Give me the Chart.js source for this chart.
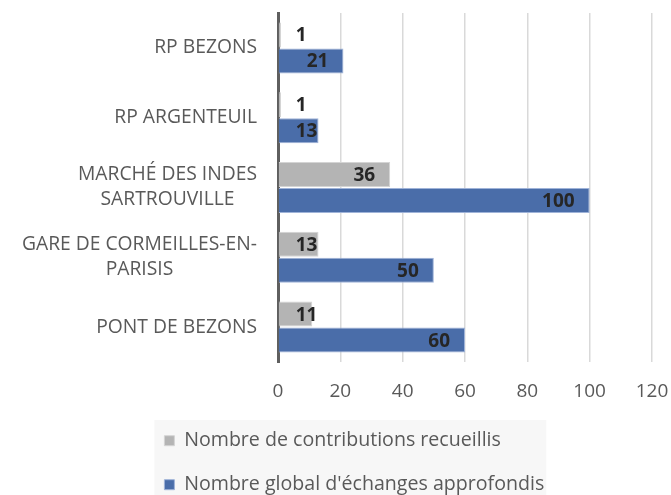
<!DOCTYPE html>
<html>
<head>
<meta charset="utf-8">
<script src="https://cdn.jsdelivr.net/npm/chart.js@4/dist/chart.umd.min.js"></script>
<style>
  html, body { margin: 0; padding: 0; background: #ffffff; }
  #wrap { width: 671px; height: 495px; position: relative; }
</style>
</head>
<body>
<div id="wrap"><canvas id="c" width="671" height="495"></canvas></div>
<script>
const categories = [
  'RP BEZONS',
  'RP ARGENTEUIL',
  ['MARCHÉ DES INDES', 'SARTROUVILLE'],
  ['GARE DE CORMEILLES-EN-', 'PARISIS'],
  'PONT DE BEZONS'
];
const seriesNames = ['Nombre de contributions recueillis', "Nombre global d'échanges approfondis"];
const contributions = [1, 1, 36, 13, 11];
const echanges = [21, 13, 100, 50, 60];
const xTicks = [0, 20, 40, 60, 80, 100, 120];

const FONT = "'Open Sans', 'Noto Sans', sans-serif";
const TEXT = '#595959';

const categoryLabelsPlugin = {
  id: 'categoryLabels',
  afterDraw(chart) {
    const ctx = chart.ctx;
    const y = chart.scales.y;
    ctx.save();
    ctx.font = '19.3px ' + FONT;
    ctx.fillStyle = TEXT;
    ctx.textAlign = 'center';
    ctx.textBaseline = 'middle';
    const rightX = chart.chartArea.left - 21;
    const lh = 25;
    categories.forEach((lab, i) => {
      const lines = Array.isArray(lab) ? lab : [lab];
      const w = Math.max(...lines.map(l => ctx.measureText(l).width));
      const cx = rightX - w / 2;
      const cy = y.getPixelForValue(i);
      lines.forEach((l, j) => {
        ctx.fillText(l, cx, cy + (j - (lines.length - 1) / 2) * lh);
      });
    });
    ctx.restore();
  }
};

const valueLabelsPlugin = {
  id: 'valueLabels',
  afterDatasetsDraw(chart) {
    const ctx = chart.ctx;
    ctx.save();
    ctx.font = 'bold 19px ' + FONT;
    ctx.fillStyle = '#262626';
    ctx.textAlign = 'left';
    ctx.textBaseline = 'middle';
    chart.data.datasets.forEach((ds, di) => {
      const meta = chart.getDatasetMeta(di);
      meta.data.forEach((bar, i) => {
        const txt = String(ds.data[i]);
        const w = ctx.measureText(txt).width;
        const left = Math.max(bar.base + 17, bar.x - 15 - w);
        ctx.fillText(txt, left, bar.y + 1);
      });
    });
    ctx.restore();
  }
};

const legendBgPlugin = {
  id: 'legendBg',
  beforeDraw(chart) {
    const lg = chart.legend;
    if (!lg || !lg.legendHitBoxes || !lg.legendHitBoxes.length) return;
    const hb = lg.legendHitBoxes;
    const left = Math.min(...hb.map(h => h.left)) - 10;
    const right = Math.max(...hb.map(h => h.left + h.width)) + 2;
    const top = hb[0].top - 11;
    const ctx = chart.ctx;
    ctx.save();
    ctx.fillStyle = '#f7f7f7';
    ctx.fillRect(left, top, right - left, chart.height - top);
    ctx.restore();
  }
};

new Chart(document.getElementById('c'), {
  type: 'bar',
  data: {
    labels: categories,
    datasets: [
      {
        label: seriesNames[0],
        data: contributions,
        backgroundColor: '#b4b4b4',
        borderColor: '#d4d4d4',
        borderWidth: 1,
        categoryPercentage: 0.745,
        barPercentage: 0.96
      },
      {
        label: seriesNames[1],
        data: echanges,
        backgroundColor: '#4a6da9',
        borderColor: '#9fb3d8',
        borderWidth: 1,
        categoryPercentage: 0.745,
        barPercentage: 0.96
      }
    ]
  },
  options: {
    indexAxis: 'y',
    responsive: false,
    animation: false,
    devicePixelRatio: 1,
    layout: { padding: { left: 140, right: 19, top: 13, bottom: -9.5 } },
    scales: {
      x: {
        min: 0,
        max: 120,
        afterBuildTicks(scale) { scale.ticks = xTicks.map(v => ({ value: v })); },
        afterFit(scale) {
          scale.height = 44.5;
          scale.paddingRight = 0;
          scale.paddingLeft = 0;
        },
        grid: { color: '#d9d9d9', lineWidth: 1.5, drawTicks: false },
        border: { display: false },
        ticks: { color: TEXT, font: { family: FONT, size: 19 }, padding: 18 }
      },
      y: {
        afterFit(scale) {
          scale.width = 138;
          scale.paddingTop = 0;
          scale.paddingBottom = 0;
        },
        grid: { display: false, drawTicks: false },
        border: { display: true, color: '#5f5f5f', width: 3 },
        ticks: { display: false }
      }
    },
    plugins: {
      tooltip: { enabled: false },
      legend: {
        position: 'bottom',
        align: 'start',
        labels: {
          color: TEXT,
          font: { family: FONT, size: 19.6 },
          boxWidth: 10,
          boxHeight: 10,
          padding: 24.4
        }
      }
    }
  },
  plugins: [legendBgPlugin, categoryLabelsPlugin, valueLabelsPlugin]
});
</script>
</body>
</html>
